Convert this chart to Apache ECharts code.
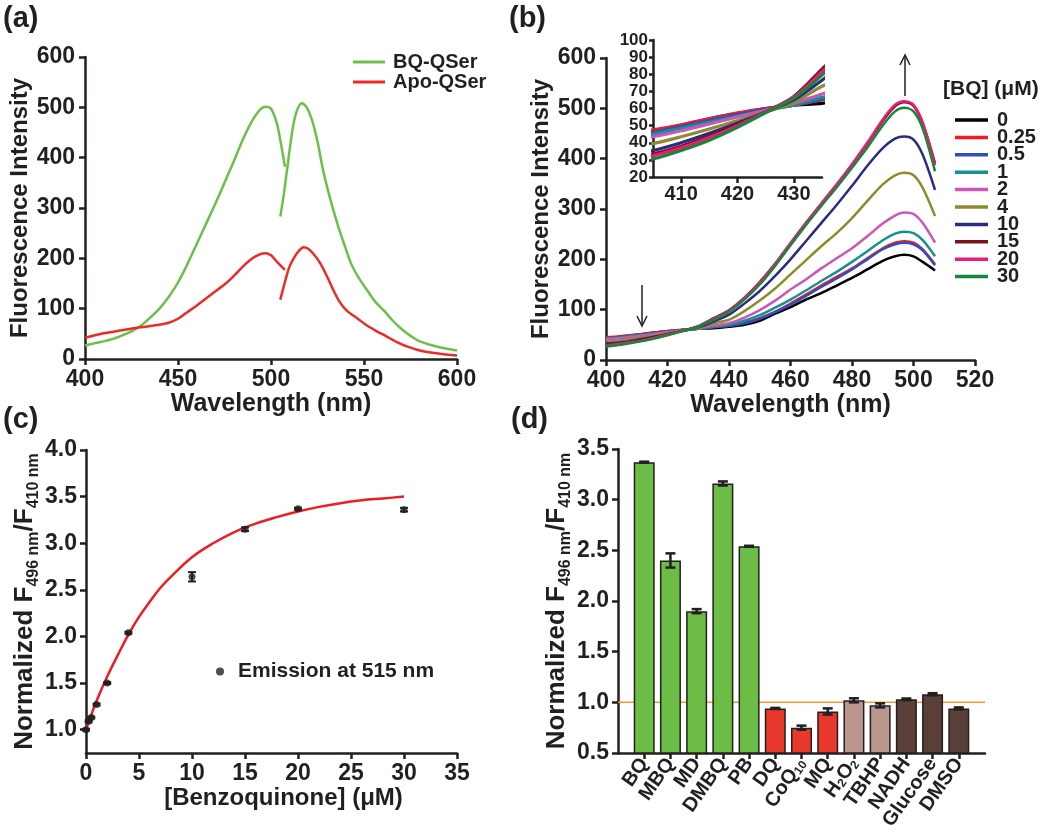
<!DOCTYPE html>
<html>
<head>
<meta charset="utf-8">
<script src="https://cdn.jsdelivr.net/npm/echarts@6/dist/echarts.min.js"></script>
<style>html,body{margin:0;padding:0;background:#fff}#c{width:1050px;height:839px}</style>
</head>
<body>
<div id="c"></div>
<script>
// ---------- Panel (a) data ----------
const aBQ1 = [[400,27],[405,31],[410,35],[415,40],[420,47],[425,55],[430,66],[435,82],[440,100],[445,123],[450,152],[455,188],[460,228],[465,268],[470,308],[475,350],[480,393],[485,437],[490,474],[494,495],[497,501],[500,497],[503,470],[505,435],[507.5,382]];
const aBQ2 = [[505,283],[507,330],[510,415],[512,465],[514,494],[516.5,508],[519,501],[522,475],[525,432],[528,375],[532,316],[536,265],[539,232],[543,190],[547,162],[552,135],[556,114],[561,95],[565,78],[570,60],[575,46],[580,35],[590,24],[600,17]];
const aApo1 = [[400,42],[410,51],[420,57],[430,63],[440,68],[445,72],[450,80],[455,93],[460,106],[465,120],[470,134],[476,151],[480,165],[485,184],[490,200],[494,208],[497,210],[500,206],[503,194],[507.5,177]];
const aApo2 = [[505,118],[508,160],[510,184],[513,205],[515,215],[517.5,222],[520,219],[523,208],[526.5,190],[530,165],[533.5,137],[537,113],[541,95],[546,82],[551,68],[556,57],[562,45],[568,33],[573,25],[580,17],[590,11],[600,7]];
const aNames = ['BQ-QSer','Apo-QSer'];

// ---------- Panel (b) data ----------
const bX = [400,405,410,415,420,425,430,435,440,445,450,455,460,465,470,475,480,485,490,494,497,500,503,507];
const bConc = ['0','0.25','0.5','1','2','4','10','15','20','30'];
const b0   = [42,46,50,54,57,60,62,63,66,70,78,92,105,120,133,148,163,180,197,206,209,206,195,178];
const b025 = [45,47.5,50.5,54,57.5,60,62,65,68,74,83,96,112,130,148,165,182,202,222,233,236,233,220,190];
const b05  = [43,46,49.5,53,56.5,59.5,62,65.5,68,73,82,95,110,127,145,162,180,200,220,230,233,230,218,188];
const b1   = [42,45,48.5,52,55.5,59,62,66.5,70,78,89,104,120,138,157,175,195,216,238,251,255,252,238,206];
const b2   = [41,43.5,47,51,55,59,63,68.5,73,84,99,118,140,160,182,202,222,246,271,287,293,290,272,233];
const b4   = [37,39.5,43.5,48,53,58,63.5,73,80,97,118,142,170,198,226,252,282,316,349,367,372,367,342,286];
const b10  = [33,35.5,40,45.5,51.5,58,65,76.5,90,112,137,167,200,236,272,308,346,386,421,440,444,438,408,338];
const b15  = [30,33.5,38,44,50.5,58,67,83,99,124,155,191,232,272,310,348,388,430,475,504,512,505,470,391];
const b20  = [29,32.5,37,43,50,58,66.5,81.5,98,123,154,191,232,272,311,349,389,432,478,507,514,507,472,387];
const b30  = [27,30.5,35.5,41.5,49,57.5,66,79.5,96,120,150,187,228,268,306,343,382,422,466,494,501,494,460,375];
const bValues = [b0,b025,b05,b1,b2,b4,b10,b15,b20,b30];
const bColors = ['#000000','#ee1c24','#2f4fbf','#15918f','#cc55bb','#8c8c2c','#2b2b86','#7a1414','#ee1a7a','#16873a'];

// ---------- Panel (c) data ----------
const cX   = [0,0.25,0.5,1,2,4,10,15,20,30];
const cY   = [1.0,1.09,1.13,1.27,1.5,2.04,2.64,3.15,3.37,3.36];
const cErr = [0.01,0.01,0.01,0.01,0.01,0.01,0.05,0.02,0.01,0.02];
const fitX = [0,0.5,1,2,3,4,5,6,7,8,10,12,14,16,18,20,22,24,26,28,30];
const fitY = [1.0,1.16,1.31,1.57,1.80,2.02,2.21,2.37,2.52,2.64,2.85,3.00,3.12,3.21,3.28,3.34,3.39,3.43,3.46,3.48,3.50];
const cTicksY = [1.0,1.5,2.0,2.5,3.0,3.5,4.0];

// ---------- Panel (d) data ----------
const dCats = ['BQ','MBQ','MD','DMBQ','PB','DQ','CoQ{s|10}','MQ','H{s|2}O{s|2}','TBHP','NADH','Glucose','DMSO'];
const dVals = [3.37,2.40,1.90,3.16,2.54,0.94,0.75,0.91,1.02,0.97,1.03,1.08,0.94];
const dErr  = [0.005,0.07,0.02,0.02,0.005,0.005,0.02,0.03,0.02,0.02,0.008,0.01,0.01];
const dColors = ['#6cbd45','#6cbd45','#6cbd45','#6cbd45','#6cbd45','#e8382b','#e8382b','#e8382b','#b9958c','#b9958c','#5a3f39','#5a3f39','#5a3f39'];
const dRef = 1.0;

// ---------- styling ----------
const FONT = "'Liberation Sans', Arial, sans-serif";
const INK = '#231f20';
const axLine = {show:true, onZero:false, lineStyle:{color:INK, width:2.5}};
const axTick = {show:true, length:6, lineStyle:{color:INK, width:2.5}};
const axLabel = (size, margin) => ({color:INK, fontSize:size, fontWeight:'bold', fontFamily:FONT, margin:margin});
const nameStyle = (size) => ({color:INK, fontSize:size, fontWeight:'bold', fontFamily:FONT});
const normRich = {
  m:{fontSize:26, fontWeight:'bold', fontFamily:FONT, color:INK, lineHeight:32, verticalAlign:'middle'},
  s:{fontSize:16, fontWeight:'bold', fontFamily:FONT, color:INK, lineHeight:16, verticalAlign:'bottom'}
};
const normName = '{m|Normalized F}{s|496 nm}{m|/F}{s|410 nm}';

const grids = [
  {left:85, top:57, width:372, height:302},
  {left:606, top:58, width:369, height:302},
  {left:653, top:40, width:169, height:137},
  {left:86, top:450, width:371, height:303},
  {left:618, top:449, width:367, height:304}
].map(g => Object.assign({outerBoundsMode:'none', containLabel:false}, g));

const dIdx = dCats.map((c,i)=>i);
const xAxes = [
  {gridIndex:0, type:'value', min:400, max:600, interval:50, axisLine:axLine, axisTick:axTick, splitLine:{show:false},
   axisLabel:axLabel(23,9), name:'Wavelength (nm)', nameLocation:'middle', nameGap:32, nameTextStyle:nameStyle(25)},
  {gridIndex:1, type:'value', min:400, max:520, interval:20, axisLine:axLine, axisTick:axTick, splitLine:{show:false},
   axisLabel:axLabel(23,9), name:'Wavelength (nm)', nameLocation:'middle', nameGap:32, nameTextStyle:nameStyle(25)},
  {gridIndex:2, type:'value', min:405, max:435, interval:5, axisLine:axLine, axisTick:Object.assign({}, axTick, {customValues:[410,420,430]}), splitLine:{show:false},
   axisLabel:Object.assign(axLabel(20,7), {customValues:[410,420,430]})},
  {gridIndex:3, type:'value', min:0, max:35, interval:5, axisLine:axLine, axisTick:axTick, splitLine:{show:false},
   axisLabel:axLabel(23,9), name:'[Benzoquinone] (μM)', nameLocation:'middle', nameGap:33, nameTextStyle:Object.assign(nameStyle(24), {padding:[0,0,0,24]})},
  {gridIndex:4, type:'value', min:-1, max:13, interval:1, axisLine:axLine,
   axisTick:Object.assign({}, axTick, {customValues:dIdx}), splitLine:{show:false},
   axisLabel:Object.assign(axLabel(20,7), {customValues:dIdx, rotate:55, formatter:v=>dCats[v],
     showMinLabel:true, showMaxLabel:true, hideOverlap:false,
     rich:{s:{fontSize:12, fontWeight:'bold', fontFamily:FONT, color:INK, verticalAlign:'bottom', lineHeight:12}}})}
];

const yAxes = [
  {gridIndex:0, type:'value', min:0, max:600, interval:100, axisLine:axLine, axisTick:axTick, splitLine:{show:false},
   axisLabel:axLabel(23,10), name:'Fluorescence Intensity', nameLocation:'middle', nameGap:49, nameTextStyle:nameStyle(24)},
  {gridIndex:1, type:'value', min:0, max:600, interval:100, axisLine:axLine, axisTick:axTick, splitLine:{show:false},
   axisLabel:axLabel(23,10), name:'Fluorescence Intensity', nameLocation:'middle', nameGap:49, nameTextStyle:nameStyle(24)},
  {gridIndex:2, type:'value', min:20, max:100, interval:10, axisLine:axLine, axisTick:Object.assign({}, axTick, {length:4}), splitLine:{show:false},
   axisLabel:Object.assign(axLabel(17,5), {showMinLabel:true, showMaxLabel:true, hideOverlap:false})},
  {gridIndex:3, type:'value', min:0.75, max:4.0, interval:0.25, axisLine:axLine,
   axisTick:Object.assign({}, axTick, {customValues:cTicksY}), splitLine:{show:false},
   axisLabel:Object.assign(axLabel(23,9), {customValues:cTicksY, formatter:v=>Number(v).toFixed(1)}),
   name:normName, nameLocation:'middle', nameGap:40, nameTextStyle:{rich:normRich}},
  {gridIndex:4, type:'value', min:0.5, max:3.5, interval:0.5, axisLine:axLine, axisTick:axTick, splitLine:{show:false},
   axisLabel:Object.assign(axLabel(23,9), {formatter:v=>Number(v).toFixed(1)}),
   name:normName, nameLocation:'middle', nameGap:40, nameTextStyle:{rich:normRich}}
];

const series = [];
// (a)
series.push({name:aNames[0], type:'line', xAxisIndex:0, yAxisIndex:0, smooth:0.3, symbol:'none',
  data:aBQ1.concat([[506,'-']], aBQ2), lineStyle:{color:'#6cc04a', width:2.5}, itemStyle:{color:'#6cc04a'}});
series.push({name:aNames[1], type:'line', xAxisIndex:0, yAxisIndex:0, smooth:0.3, symbol:'none',
  data:aApo1.concat([[506,'-']], aApo2), lineStyle:{color:'#ee2a24', width:2.5}, itemStyle:{color:'#ee2a24'}});
// (b) main + inset
bValues.forEach((arr, k) => {
  const pts = bX.map((x,i)=>[x, arr[i]]);
  series.push({name:bConc[k], type:'line', xAxisIndex:1, yAxisIndex:1, smooth:0.3, symbol:'none', data:pts,
    lineStyle:{color:bColors[k], width:2.5}, itemStyle:{color:bColors[k]}});
});
bValues.forEach((arr, k) => {
  const pts = bX.map((x,i)=>[x, arr[i]]);
  series.push({name:bConc[k], type:'line', xAxisIndex:2, yAxisIndex:2, smooth:0.3, symbol:'none', data:pts, clip:true,
    lineStyle:{color:bColors[k], width:3.2}, itemStyle:{color:bColors[k]}});
});
// (c)
series.push({name:'fit', type:'line', xAxisIndex:3, yAxisIndex:3, smooth:0.4, symbol:'none',
  data:fitX.map((x,i)=>[x, fitY[i]]), lineStyle:{color:'#ee1c24', width:2.5}, z:3});
series.push({name:'Emission at 515 nm', type:'scatter', xAxisIndex:3, yAxisIndex:3, symbol:'circle', symbolSize:7,
  data:cX.map((x,i)=>[x, cY[i]]), itemStyle:{color:INK}, z:4});
series.push({name:'cerr', type:'custom', xAxisIndex:3, yAxisIndex:3, z:4,
  data:cX.map((x,i)=>[x, cY[i], cErr[i]]),
  renderItem:(p, api) => {
    const x = api.value(0), y = api.value(1), e = api.value(2);
    const t = api.coord([x, y+e]), b = api.coord([x, y-e]);
    const st = {stroke:INK, lineWidth:2};
    return {type:'group', children:[
      {type:'line', shape:{x1:t[0],y1:t[1],x2:b[0],y2:b[1]}, style:st},
      {type:'line', shape:{x1:t[0]-4,y1:t[1],x2:t[0]+4,y2:t[1]}, style:st},
      {type:'line', shape:{x1:b[0]-4,y1:b[1],x2:b[0]+4,y2:b[1]}, style:st}
    ]};
  }});
// (d)
series.push({name:'ref', type:'line', xAxisIndex:4, yAxisIndex:4, symbol:'none', z:1,
  data:[[-1,dRef],[13,dRef]], lineStyle:{color:'#f39a2d', width:1.5}});
series.push({name:'bars', type:'bar', xAxisIndex:4, yAxisIndex:4, barWidth:21, z:2,
  data:dVals.map((v,i)=>({value:[i,v], itemStyle:{color:dColors[i], borderColor:INK, borderWidth:1.5}}))});
series.push({name:'derr', type:'custom', xAxisIndex:4, yAxisIndex:4, z:5,
  data:dVals.map((v,i)=>[i, v, dErr[i]]),
  renderItem:(p, api) => {
    const x = api.value(0), y = api.value(1), e = api.value(2);
    const t = api.coord([x, y+e]), b = api.coord([x, y-e]);
    const st = {stroke:INK, lineWidth:2.5};
    return {type:'group', children:[
      {type:'line', shape:{x1:t[0],y1:t[1],x2:b[0],y2:b[1]}, style:st},
      {type:'line', shape:{x1:t[0]-5,y1:t[1],x2:t[0]+5,y2:t[1]}, style:st},
      {type:'line', shape:{x1:b[0]-5,y1:b[1],x2:b[0]+5,y2:b[1]}, style:st}
    ]};
  }});

const panelTitle = (txt, left, top) => ({text:txt, left:left, top:top, padding:0,
  textStyle:{fontSize:29, fontWeight:'bold', fontFamily:FONT, color:INK}});

const option = {
  animation:false,
  backgroundColor:'#ffffff',
  title:[
    panelTitle('(a)', 3, 4), panelTitle('(b)', 509, 4), panelTitle('(c)', 3, 405), panelTitle('(d)', 511, 405),
    {text:'[BQ] (μM)', left:943, top:79, padding:0, textStyle:{fontSize:21, fontWeight:'bold', fontFamily:FONT, color:INK}}
  ],
  legend:[
    {data:aNames.map(n=>({name:n, icon:'rect'})), left:348, top:47, orient:'vertical', itemWidth:32, itemHeight:3, itemGap:0, selectedMode:false,
     textStyle:{fontSize:20, fontWeight:'bold', fontFamily:FONT, color:INK, padding:[0,0,0,3]}},
    {data:bConc.map(n=>({name:n, icon:'rect'})), left:950, top:105, orient:'vertical', itemWidth:33, itemHeight:3.5, itemGap:-2.6, selectedMode:false,
     textStyle:{fontSize:20, fontWeight:'bold', fontFamily:FONT, color:INK, padding:[0,0,0,4]}},
    {data:[{name:'Emission at 515 nm', icon:'circle'}], left:211, top:656, itemWidth:8, itemHeight:8, selectedMode:false,
     textStyle:{fontSize:21, fontWeight:'bold', fontFamily:FONT, color:INK, padding:[0,0,0,9]}}
  ],
  grid:grids, xAxis:xAxes, yAxis:yAxes, series:series,
  graphic:[
    {type:'line', shape:{x1:905,y1:96,x2:905,y2:56}, style:{stroke:INK, lineWidth:1.5}},
    {type:'polyline', shape:{points:[[900,65],[905,55],[910,65]]}, style:{stroke:INK, lineWidth:1.5, fill:null}},
    {type:'line', shape:{x1:642,y1:285,x2:642,y2:326}, style:{stroke:INK, lineWidth:1.5}},
    {type:'polyline', shape:{points:[[637,316],[642,326],[647,316]]}, style:{stroke:INK, lineWidth:1.5, fill:null}}
  ]
};
const chart = echarts.init(document.getElementById('c'), null, {renderer:'canvas'});
chart.setOption(option);
</script>
</body>
</html>
